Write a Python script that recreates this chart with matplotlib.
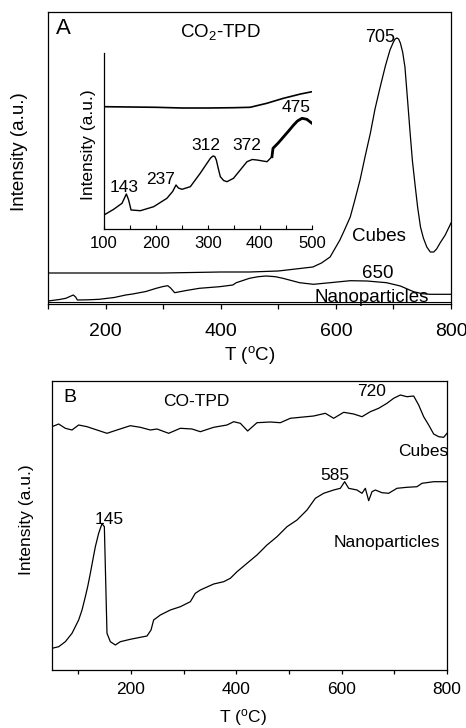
import matplotlib
matplotlib.use('Agg')
import matplotlib.pyplot as plt
import numpy as np

plt.rcParams.update({'font.family': 'Liberation Sans',
                     'mathtext.fontset': 'custom',
                     'mathtext.rm': 'Liberation Sans',
                     'mathtext.it': 'Liberation Sans:italic'})

# ---- Panel A: CO2-TPD (arbitrary intensity units) ----
a_cubes_T = [100, 300, 400, 450, 500, 530, 560, 575, 590, 607, 615, 625, 633,
             642, 651, 660, 668, 677, 686, 694, 700, 703, 706, 709, 712, 716,
             720, 724, 729, 733, 738, 742, 747, 752, 758, 764, 770, 775, 781,
             790, 800]
a_cubes_I = [31, 31, 32, 32, 33, 35, 37, 41, 47, 64, 74, 87, 104,
             124, 148, 171, 195, 217, 238, 254, 262, 265, 266, 265, 261, 252,
             237, 208, 171, 143, 117, 97, 77, 66, 57, 52, 52, 55, 61,
             69, 81]

a_nano_T = [100, 120, 131, 138, 144, 148, 151, 170, 189, 215, 235, 247, 270,
            288, 300, 308, 313, 320, 340, 363, 398, 421, 427, 450, 465, 479,
            495, 508, 537, 561, 590, 625, 654, 688, 712, 735, 750, 764, 800]
a_nano_I = [3, 4.5, 5.7, 7.5, 9, 7, 4, 4.2, 4.7, 6.5, 9, 10, 12.5,
            15.7, 17.5, 18.3, 16, 11.3, 13.5, 15.7, 17.3, 19, 21.3, 25.7, 27.3, 28,
            27.3, 25.7, 21.3, 19.7, 21.3, 23.3, 23, 21.3, 18, 12.3, 10.3, 9.7, 9.7]

# inset (100-500 C)
in_cubes_T = [100, 150, 200, 250, 300, 350, 381, 413, 445, 478, 500]
in_cubes_I = [122.3, 122, 121.7, 121, 121, 121.3, 121.7, 125.7, 130.7, 135, 137.3]

in_nano_T = [100, 118.6, 134.6, 143, 147.4, 152, 170, 195.5, 221, 232, 238.5, 243,
             250, 266, 285, 298, 305, 309.6, 313, 316, 320, 323.7, 330, 336.5,
             349, 362, 375, 385, 394, 413.5, 423, 425, 435, 445.5, 455, 464.7,
             472, 480.8, 490, 500]
in_nano_I = [14, 19.7, 25.7, 35, 29, 19, 18.3, 22.3, 30.7, 37.5, 44, 41,
             39.7, 42.3, 55.7, 65.7, 71, 73, 72.5, 69, 60, 52.3, 48.5, 47.3,
             50.7, 59, 67.3, 69.5, 69, 67.3, 72.3, 80.7, 86, 92.3, 98, 104,
             108, 110.7, 109.7, 105.7]

# ---- Panel B: CO-TPD ----
b_cubes_T = [50, 62.7, 75.3, 88, 100.6, 116.5, 135.4, 154.4, 173.4, 198.7, 217.7,
             236.7, 249.4, 271.5, 293.7, 315.8, 331.6, 357, 382.3, 395, 407.6,
             421.5, 439.2, 464.5, 483.5, 502.5, 521.5, 546.8, 569, 584.8, 603.8,
             622.8, 638.6, 654.4, 670.2, 686, 698.7, 711.4, 724, 736.7, 746.2,
             755.7, 765.2, 774.7, 784.2, 793.7, 800]
b_cubes_I = [243.3, 246, 241.7, 240, 245, 243.3, 240, 236.7, 240, 244.3, 242.7,
             240, 241, 236.7, 241.7, 241, 238.3, 242.7, 245, 248.3, 246.7,
             239, 247.3, 248, 247.3, 251.7, 252.7, 254, 256.7, 251.7, 257.7,
             256, 253.3, 258.3, 261.7, 266.7, 271.7, 275, 273.3, 274, 265,
             253.3, 245, 236, 233.3, 232.7, 236.7]

b_nano_T = [50, 62.7, 75.3, 88, 100.6, 107, 113.3, 118, 122.8, 127.5, 132.3, 138.6,
            142, 144.9, 147, 149.4, 151.9, 154.4, 160.8, 170.3, 179.7, 198.7,
            217.7, 230.4, 238, 243, 255.7, 274.7, 293.7, 312.7, 322.1, 331.6,
            357, 376, 388.6, 401.3, 420.3, 439.2, 458.2, 477.2, 496.2, 515.2,
            534.2, 550, 565.8, 584.8, 597.5, 605.7, 613.3, 629.1, 638.6, 644.9,
            651.3, 657.6, 663.9, 676.6, 689.2, 705, 724, 743, 752.5, 774.7, 800]
b_nano_I = [21.7, 23.3, 28.3, 36.7, 50, 60, 73.3, 84, 96.7, 110, 123.3, 136.7,
            142, 146, 145, 143.3, 90, 36.7, 28.3, 25, 28.3, 30.7,
            32.7, 34, 40, 50, 55, 60, 63.3, 68.3, 76.7, 80,
            86, 88.3, 91.7, 98.3, 106.7, 115, 125, 133.3, 143.3, 150,
            160, 171.7, 176.7, 180, 181.7, 188.3, 181.7, 180, 176.7, 181.7,
            169.3, 178.3, 180, 177.3, 176.7, 181.7, 182.7, 183.3, 186.7, 188.3, 188.3]

W, H = 466, 728
fig = plt.figure(figsize=(W / 100, H / 100), dpi=100)


def rect(l, t, r, b):
    return [l / W, 1 - b / H, (r - l) / W, (b - t) / H]


def ftext(x, y, s, **kw):
    fig.text(x / W, 1 - y / H, s, **kw)


LW = 0.9

# ─── Panel A ──────────────────────────────────────────────
axA = fig.add_axes(rect(48, 12, 451, 304))
axA.plot(a_cubes_T, a_cubes_I, color='black', lw=LW)
axA.plot(a_nano_T, a_nano_I, color='black', lw=LW)
axA.axhline(2.5, color='black', lw=0.8)
axA.set_xlim(100, 800)
axA.set_ylim(0, 292)
axA.set_yticks([])
axA.set_xticks([200, 400, 600, 800])
axA.set_xticks([100, 300, 500, 700], minor=True)
axA.tick_params(axis='x', which='both', direction='out', length=3.5, width=0.9,
                labelsize=14, pad=10)
for s in axA.spines.values():
    s.set_linewidth(0.9)

ftext(63, 28, 'A', fontsize=16, ha='center', va='center')
ftext(220, 32, 'CO$_2$-TPD', fontsize=13.5, ha='center', va='center')
ftext(380, 37, '705', fontsize=13, ha='center', va='center')
ftext(379, 237, 'Cubes', fontsize=13.5, ha='center', va='center')
ftext(378, 273, '650', fontsize=13.5, ha='center', va='center')
ftext(372, 297, 'Nanoparticles', fontsize=13.5, ha='center', va='center')
ftext(20, 152, 'Intensity (a.u.)', fontsize=13.5, rotation=90, ha='center', va='center')
ftext(250, 360, 'T ($^{\\rm o}$C)', fontsize=13.5, ha='center', va='baseline')

# inset
axI = fig.add_axes(rect(104, 53, 312, 229))
axI.patch.set_alpha(0)
axI.plot(in_cubes_T, in_cubes_I, color='black', lw=1.2)
axI.plot(in_nano_T, in_nano_I, color='black', lw=1.0)
axI.plot(in_nano_T[30:], in_nano_I[30:], color='black', lw=2.0)
axI.set_xlim(100, 500)
axI.set_ylim(0, 176)
axI.set_yticks([])
axI.set_xticks([100, 200, 300, 400, 500])
axI.set_xticks([150, 250, 350, 450], minor=True)
axI.tick_params(axis='x', which='both', direction='in', length=3, width=0.8,
                labelsize=12, pad=5)
axI.spines['top'].set_visible(False)
axI.spines['right'].set_visible(False)
for s in ['left', 'bottom']:
    axI.spines[s].set_linewidth(0.9)
ftext(89, 145, 'Intensity (a.u.)', fontsize=12.5, rotation=90, ha='center', va='center')
ftext(124, 188, '143', fontsize=12.5, ha='center', va='center')
ftext(161, 179, '237', fontsize=12.5, ha='center', va='center')
ftext(206, 146, '312', fontsize=12.5, ha='center', va='center')
ftext(247, 146, '372', fontsize=12.5, ha='center', va='center')
ftext(296, 108, '475', fontsize=12.5, ha='center', va='center')

# ─── Panel B ──────────────────────────────────────────────
axB = fig.add_axes(rect(52, 381, 447, 670))
axB.plot(b_cubes_T, b_cubes_I, color='black', lw=LW)
axB.plot(b_nano_T, b_nano_I, color='black', lw=LW)
axB.set_xlim(50, 800)
axB.set_ylim(0, 289)
axB.set_yticks([])
axB.set_xticks([200, 400, 600, 800])
axB.set_xticks([100, 300, 500, 700], minor=True)
axB.tick_params(axis='x', which='both', direction='out', length=3, width=0.9,
                labelsize=12.5, pad=6)
for s in axB.spines.values():
    s.set_linewidth(0.9)

ftext(70, 398, 'B', fontsize=14, ha='center', va='center')
ftext(196, 401, 'CO-TPD', fontsize=12.5, ha='center', va='center')
ftext(372, 391, '720', fontsize=12.5, ha='center', va='center')
ftext(423, 451, 'Cubes', fontsize=12.5, ha='center', va='center')
ftext(335, 475, '585', fontsize=12.5, ha='center', va='center')
ftext(109, 520, '145', fontsize=12.5, ha='center', va='center')
ftext(387, 542, 'Nanoparticles', fontsize=12.5, ha='center', va='center')
ftext(27, 520, 'Intensity (a.u.)', fontsize=12.5, rotation=90, ha='center', va='center')
ftext(243, 722, 'T ($^{\\rm o}$C)', fontsize=12.5, ha='center', va='baseline')

fig.savefig('out.png', dpi=100)
